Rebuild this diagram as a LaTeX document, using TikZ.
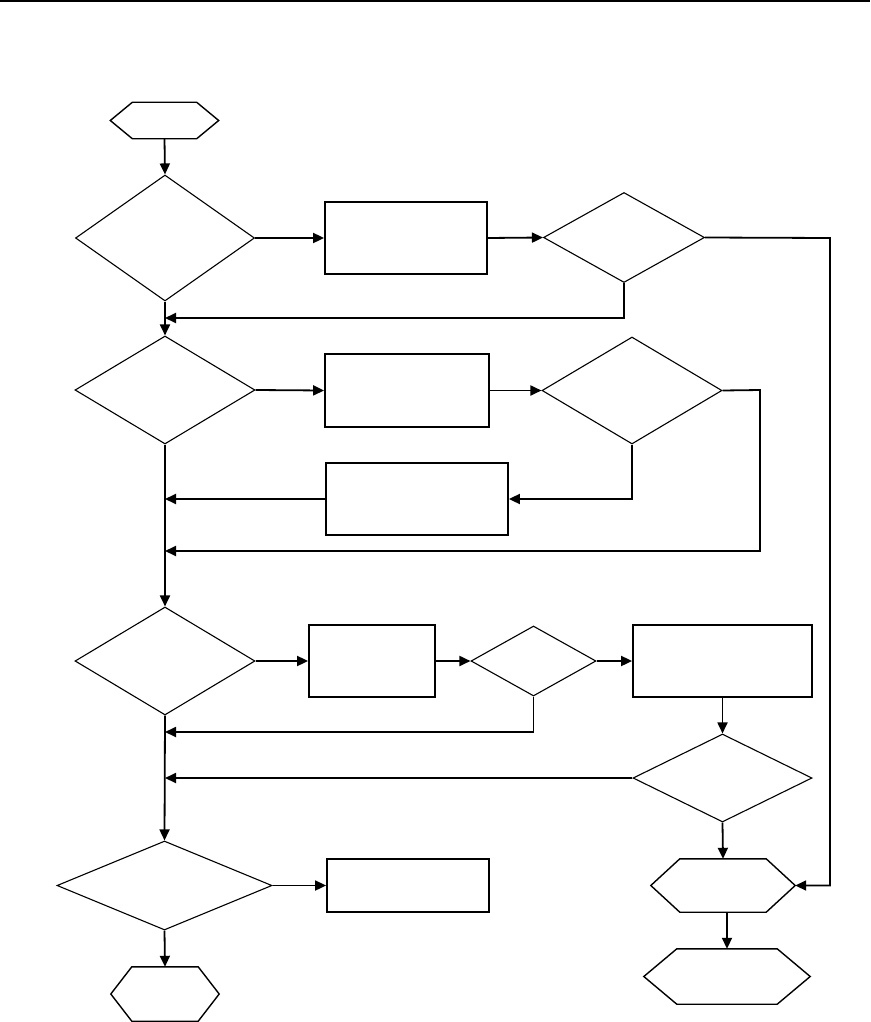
\documentclass[tikz,border=0pt]{standalone}
\usetikzlibrary{shapes.geometric,arrows.meta}
\tikzset{
  dia/.style={diamond, draw, line width=1.1pt, inner sep=0pt, aspect=1},
  box/.style={rectangle, draw, line width=1.8pt, inner sep=0pt},
  conn/.style={line width=1.8pt, -{Triangle[length=11pt,width=10pt]}},
  hexl/.style={line width=1.4pt, line join=miter},
}
\newcommand\myhex[6]{%
  \node[draw=none, minimum width=#4pt, minimum height=#5pt, inner sep=0pt] (#1) at (#2,#3) {};
  \draw[hexl] (#1.west) -- ([xshift=#6pt]#1.north west) -- ([xshift=-#6pt]#1.north east) -- (#1.east) -- ([xshift=-#6pt]#1.south east) -- ([xshift=#6pt]#1.south west) -- cycle;
}
\begin{document}
\begin{tikzpicture}[x=1pt,y=-1pt]
\useasboundingbox (0,0) rectangle (870,1022);
\draw[line width=1.8pt] (0,1) -- (870,1);

% hexagons
\myhex{s}{164.5}{120.5}{108}{36}{22}
\myhex{h2}{723}{885.5}{144}{53}{29}
\myhex{h3}{727}{976.5}{166}{55}{33}
\myhex{h4}{165}{994}{108}{54}{21}

% boxes
\node[box, minimum width=162pt, minimum height=72pt] (b1) at (406,238) {};
\node[box, minimum width=164pt, minimum height=73pt] (b2) at (407,390.5) {};
\node[box, minimum width=182pt, minimum height=72pt] (b3) at (417,499) {};
\node[box, minimum width=126pt, minimum height=72pt] (b4) at (372,661) {};
\node[box, minimum width=179pt, minimum height=72pt] (b5) at (722.5,661) {};
\node[box, minimum width=162pt, minimum height=53pt] (b6) at (408,885.5) {};

% diamonds
\node[dia, minimum width=179pt, minimum height=126pt] (d1) at (165,238) {};
\node[dia, minimum width=161pt, minimum height=90pt] (d2) at (624,237.5) {};
\node[dia, minimum width=180pt, minimum height=108pt] (d3) at (165,390) {};
\node[dia, minimum width=180pt, minimum height=107pt] (d4) at (632,390.5) {};
\node[dia, minimum width=180pt, minimum height=108pt] (d5) at (165,661) {};
\node[dia, minimum width=125pt, minimum height=70pt] (d6) at (533.5,661) {};
\node[dia, minimum width=179pt, minimum height=88pt] (d7) at (722.5,778) {};
\node[dia, minimum width=215pt, minimum height=89pt] (d8) at (164.5,885.5) {};

% junction / corner coordinates
\coordinate (j1) at (165,318);
\coordinate (j2) at (165,499);
\coordinate (j3) at (165,551);
\coordinate (j4) at (165,732);
\coordinate (j5) at (165,778);
\coordinate (r1) at (830,238);
\coordinate (r2) at (760,390);

% connectors
\draw[conn] (s.south) -- (d1.north);
\draw[conn] (d1.east) -- (b1.west);
\draw[conn] (b1.east) -- (d2.west);
\draw[conn] (d2.south) |- (j1);
\draw[conn] (d2.east) -- (r1) |- (h2.east);
\draw[conn] (d1.south) -- (d3.north);
\draw[conn] (d3.east) -- (b2.west);
\draw[conn] (b2.east) -- (d4.west);
\draw[conn] (d4.south) |- (b3.east);
\draw[conn] (b3.west) -- (j2);
\draw[conn] (d4.east) -- (r2) |- (j3);
\draw[conn] (d3.south) -- (d5.north);
\draw[conn] (d5.east) -- (b4.west);
\draw[conn] (b4.east) -- (d6.west);
\draw[conn] (d6.east) -- (b5.west);
\draw[conn] (d6.south) |- (j4);
\draw[conn] (b5.south) -- (d7.north);
\draw[conn] (d7.west) -- (j5);
\draw[conn] (d7.south) -- (h2.north);
\draw[conn] (h3.north |- h2.south) -- (h3.north);
\draw[conn] (d5.south) -- (d8.north);
\draw[conn] (d8.east) -- (b6.west);
\draw[conn] (d8.south) -- (h4.north);
\end{tikzpicture}
\end{document}
